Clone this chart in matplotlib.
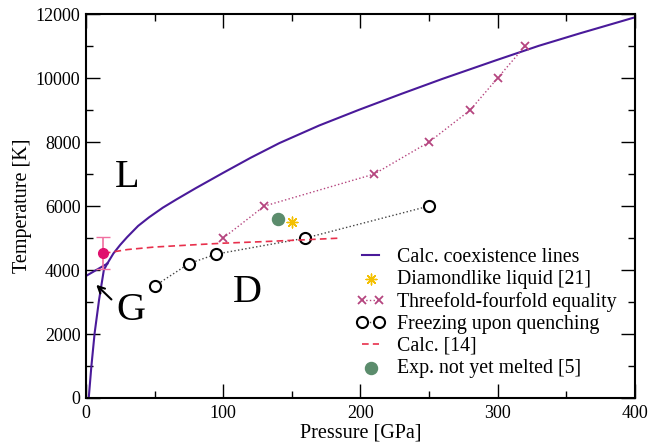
import numpy as np
import matplotlib.pyplot as plt
from matplotlib.ticker import MultipleLocator

plt.rcParams['font.family'] = ['Liberation Serif', 'DejaVu Serif']

#%% data

# calculated coexistence lines (pressure GPa, temperature K)
ld_p = [15.5, 20, 25, 30, 38, 46, 56, 66, 80, 100, 120, 141, 170, 199,
        230, 260, 299, 330, 360, 400]
ld_t = [4200, 4520, 4790, 5030, 5380, 5650, 5950, 6210, 6560, 7040, 7510,
        7970, 8520, 9010, 9510, 9980, 10560, 11010, 11400, 11900]
gd_p = [2.0, 3.9, 6.3, 9.5, 13.0, 15.5]
gd_t = [0, 980, 2030, 3060, 4000, 4200]
gl_p = [1.0, 15.5]
gl_t = [3840, 4200]

# diamondlike liquid [21]
dl_p = [150]
dl_t = [5500]

# threefold-fourfold equality
tf_p = [100, 130, 210, 250, 280, 300, 320]
tf_t = [5000, 6000, 7000, 8000, 9000, 10000, 11000]

# freezing upon quenching
fq_p = [50, 75, 95, 160, 250]
fq_t = [3500, 4200, 4500, 5000, 6000]

# calc. [14]
c14_p = [13, 30, 50, 83, 100, 130, 156, 186]
c14_t = [4520, 4640, 4720, 4800, 4840, 4890, 4940, 5000]

# exp. not yet melted [5]
ex_p = [140]
ex_t = [5600]

# point with error bar at low pressure
eb_p = [12.6]
eb_t = [4520]
eb_err = [500]

#%% plotting

fig = plt.figure(figsize=(6.49, 4.43), dpi=100)
ax = fig.add_axes([0.1325, 0.1016, 0.8455, 0.8664])

purple = '#4a1a9a'
ax.plot(ld_p, ld_t, color=purple, lw=1.5, label='Calc. coexistence lines')
ax.plot(gd_p, gd_t, color=purple, lw=1.5)
ax.plot(gl_p, gl_t, color=purple, lw=1.5)

ax.scatter(dl_p, dl_t, marker=(8, 2, 0), s=60, color='#f4c000', lw=1.0,
           label='Diamondlike liquid [21]', zorder=5)
ax.plot(tf_p, tf_t, color='#b5457f', ls=':', lw=1.0, marker='x', ms=6,
        mew=1.3, label='Threefold-fourfold equality')
ax.plot(fq_p, fq_t, color='#444444', ls=':', lw=1.0, marker='o', ms=8,
        mfc='white', mec='black', mew=1.5, label='Freezing upon quenching')
ax.plot(c14_p, c14_t, color='#e8304c', ls='--', lw=1.2, dashes=(4, 2.5),
        label='Calc. [14]')
ax.scatter(ex_p, ex_t, s=75, color='#5b8c6c', label='Exp. not yet melted [5]',
           zorder=5)

ax.errorbar(eb_p, eb_t, yerr=eb_err, fmt='o', ms=7, color='#e0106e',
            ecolor='#f070a0', elinewidth=1.2, capsize=5, zorder=6)

# region labels
ax.text(21, 6600, 'L', fontsize=29)
ax.text(107, 3000, 'D', fontsize=29)
ax.text(22.5, 2440, 'G', fontsize=29)
ax.annotate('', xy=(6.0, 3600), xytext=(20, 3020),
            arrowprops=dict(arrowstyle='->', color='black', lw=1.5,
                            mutation_scale=12))

ax.set_xlim(0, 400)
ax.set_ylim(0, 12000)
ax.xaxis.set_major_locator(MultipleLocator(100))
ax.xaxis.set_minor_locator(MultipleLocator(50))
ax.yaxis.set_major_locator(MultipleLocator(2000))
ax.yaxis.set_minor_locator(MultipleLocator(1000))
ax.tick_params(which='both', direction='in', top=True, right=True,
               labelsize=13)
ax.tick_params(axis='x', pad=5)
ax.tick_params(axis='y', pad=4)
ax.tick_params(which='major', length=10, width=1.0)
ax.tick_params(which='minor', length=5, width=1.0)
for s in ax.spines.values():
    s.set_linewidth(1.5)

ax.set_xlabel('Pressure [GPa]', fontsize=14.5, labelpad=1)
ax.set_ylabel('Temperature [K]', fontsize=14.5, labelpad=3)

ax.legend(loc='lower right', bbox_to_anchor=(0.993, 0.016), frameon=False,
          fontsize=14.3, numpoints=2, scatterpoints=1, handlelength=1.5,
          handletextpad=0.6, labelspacing=0.155, borderaxespad=0.3)

plt.savefig('out.png', dpi=100)
